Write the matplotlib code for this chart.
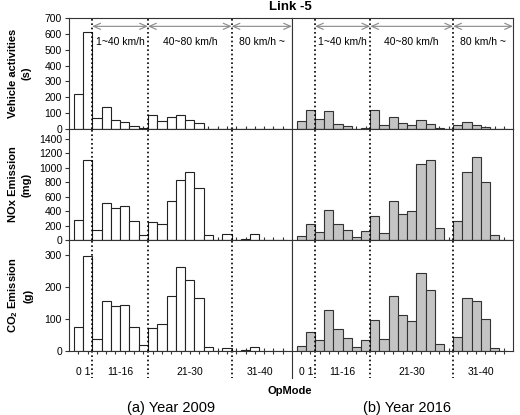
import matplotlib
matplotlib.use('Agg')
import matplotlib.pyplot as plt
from matplotlib.transforms import blended_transform_factory
import numpy as np

plt.rcParams['font.family'] = ['Liberation Sans', 'DejaVu Sans']
plt.rcParams['mathtext.fontset'] = 'custom'
plt.rcParams['mathtext.rm'] = 'Liberation Sans'
plt.rcParams['mathtext.bf'] = 'Liberation Sans:bold'

# ---------------- data ----------------
opmodes = [0, 1, 11, 12, 13, 14, 15, 16, 21, 22, 23, 24, 25, 27, 28, 29, 30,
           33, 35, 37, 38, 39, 40]
group_labels = ['0 1', '11-16', '21-30', '31-40']
group_sizes = [2, 6, 9, 6]
speed_labels = ['1~40 km/h', '40~80 km/h', '80 km/h ~']

act_2009 = [219, 612, 72, 137, 57, 46, 21, 8, 89, 51, 78, 91, 57, 40, 2, 0, 2,
            0, 1, 2, 0, 0, 0]
nox_2009 = [278, 1113, 139, 510, 436, 464, 260, 70, 246, 223, 533, 835, 946,
            719, 70, 0, 79, 0, 18, 88, 0, 0, 0]
co2_2009 = [75, 298, 39, 157, 141, 144, 74, 20, 72, 85, 173, 263, 224, 166,
            12, 0, 8, 0, 3, 13, 0, 0, 0]

act_2016 = [51, 120, 63, 112, 30, 19, 3, 6, 120, 23, 76, 40, 23, 57, 34, 4, 0,
            23, 44, 27, 13, 0, 0]
nox_2016 = [60, 218, 116, 417, 218, 134, 42, 125, 325, 102, 533, 362, 399,
            1048, 1108, 172, 0, 260, 937, 1154, 807, 65, 0]
co2_2016 = [16, 59, 36, 130, 70, 41, 12, 35, 98, 39, 173, 114, 94, 244, 191,
            21, 0, 43, 166, 156, 99, 8, 0]

row_labels = ['Vehicle activities\n(s)', 'NOx Emission\n(mg)',
              'CO$_\\mathbf{2}$ Emission\n(g)']
row_ylim = [700, 1535, 348]
row_yticks = [np.arange(0, 701, 100), np.arange(0, 1401, 200), np.arange(0, 301, 100)]
years = ['(a) Year 2009', '(b) Year 2016']

data = [[act_2009, act_2016], [nox_2009, nox_2016], [co2_2009, co2_2016]]

# ---------------- layout ----------------
W, H = 520, 415
fig = plt.figure(figsize=(W / 100, H / 100), dpi=100)

def fax(x0, y0, x1, y1):
    return fig.add_axes([x0 / W, 1 - y1 / H, (x1 - x0) / W, (y1 - y0) / H])

rows_px = [(18, 129), (129, 240), (240, 351)]
cols_px = [(69, 292), (292, 513)]

x = np.arange(len(opmodes))
cum = np.cumsum(group_sizes)
bounds = [c - 0.5 for c in cum[:-1]]
starts = np.concatenate([[0], cum[:-1]])
centers = [s + (n - 1) / 2 for s, n in zip(starts, group_sizes)]
xl = (-1, len(opmodes))

faces = ['white', '#c4c4c4']
edges = ['#222222', '#333333']

for r, (y0, y1) in enumerate(rows_px):
    for c, (x0, x1) in enumerate(cols_px):
        ax = fax(x0, y0, x1, y1)
        ax.bar(x, data[r][c], width=1.0, facecolor=faces[c], edgecolor=edges[c],
               linewidth=0.8, zorder=2)
        ax.set_xlim(*xl)
        ax.set_ylim(0, row_ylim[r])
        for s in ax.spines.values():
            s.set_linewidth(0.8)
            s.set_color('#333333')
        ax.set_xticks(x)
        ax.set_xticklabels([])
        ax.tick_params(axis='x', direction='inout', length=4, width=0.8,
                       color='#333333')
        if c == 0:
            ax.set_yticks(row_yticks[r])
            ax.tick_params(axis='y', direction='out', length=3, width=0.8,
                           labelsize=7.5, pad=2, color='#333333')
        else:
            ax.set_yticks([])
        trans = blended_transform_factory(ax.transData, ax.transAxes)
        for b in bounds:
            ax.plot([b, b], [0, 1], transform=trans, color='black',
                    linestyle=(0, (1, 1.6)), linewidth=1.2, zorder=3,
                    clip_on=False if r == 2 else True)
            if r == 2:
                ax.plot([b, b], [0, -0.24], transform=trans, color='black',
                        linestyle=(0, (1, 1.6)), linewidth=1.2, clip_on=False)
        if r == 0:
            ya = 0.925 * row_ylim[0]
            ends = bounds + [xl[1]]
            for i in range(len(bounds)):
                ax.annotate('', xy=(ends[i + 1], ya), xytext=(ends[i], ya),
                            arrowprops=dict(arrowstyle='<->,head_length=0.5,head_width=0.22',
                                            color='#888888', lw=0.8,
                                            shrinkA=0, shrinkB=0),
                            annotation_clip=False)
                ax.text((ends[i] + ends[i + 1]) / 2, 0.785 * row_ylim[0],
                        speed_labels[i], ha='center', va='center', fontsize=7.5)
        if r == 2:
            for lab, cx in zip(group_labels, centers):
                ax.text(cx, -0.19, lab, transform=trans, ha='center',
                        va='center', fontsize=7.5)
            if c == 0:
                ax.plot([1, 1], [0, -0.24], transform=ax.transAxes,
                        color='#333333', linewidth=0.8, clip_on=False)

# y labels
for r, (y0, y1) in enumerate(rows_px):
    fig.text(19.5 / W, 1 - (y0 + y1) / 2 / H, row_labels[r], rotation=90,
             ha='center', va='center', fontsize=8, fontweight='bold',
             multialignment='center', linespacing=1.45)

fig.text(290 / W, 1 - 391 / H, 'OpMode', ha='center', va='center',
         fontsize=8, fontweight='bold')
fig.text(171 / W, 1 - 408 / H, years[0], ha='center', va='center', fontsize=10.5)
fig.text(407 / W, 1 - 408 / H, years[1], ha='center', va='center', fontsize=10.5)
fig.text(290 / W, 1 - 1 / H, 'Link -5', ha='center', va='top',
         fontsize=9.5, fontweight='bold')

fig.savefig('out.png', dpi=100)
